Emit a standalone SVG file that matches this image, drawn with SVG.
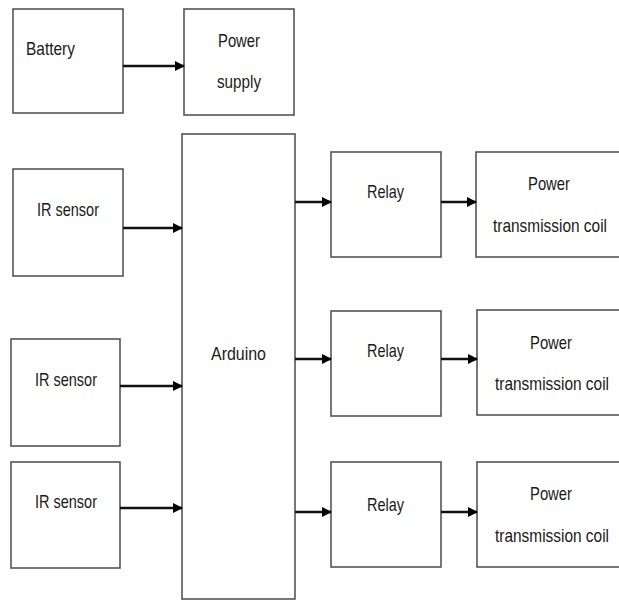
<svg xmlns="http://www.w3.org/2000/svg" width="619" height="600" viewBox="0 0 619 600">
<defs>
<marker id="ah" markerWidth="10" markerHeight="10" refX="9" refY="5" orient="auto" markerUnits="userSpaceOnUse">
<path d="M0,0 L10,5 L0,10 Z" fill="#000"/>
</marker>
<style>
.box{fill:#fff;stroke:#555;stroke-width:1.6}
.t{font-family:"Liberation Sans",Arial,sans-serif;font-size:19px;fill:#1a1a1a;text-anchor:middle}
.c{stroke:#111;stroke-width:2.6;fill:none;marker-end:url(#ah)}
</style>
</defs>
<rect width="619" height="600" fill="#fff"/>
<g id="battery"><rect class="box" x="13" y="9" width="110" height="104"/><text class="t" x="50.5" y="55" textLength="49" lengthAdjust="spacingAndGlyphs">Battery</text></g>
<g id="power-supply"><rect class="box" x="184" y="9" width="110" height="106"/><text class="t" x="239" y="47" textLength="42" lengthAdjust="spacingAndGlyphs">Power</text><text class="t" x="239" y="88" textLength="44" lengthAdjust="spacingAndGlyphs">supply</text></g>
<g id="arduino"><rect class="box" x="182" y="134" width="113" height="465"/><text class="t" x="238.5" y="360" textLength="55" lengthAdjust="spacingAndGlyphs">Arduino</text></g>
<g id="ir1"><rect class="box" x="13" y="169" width="110" height="107"/><text class="t" x="68" y="216" textLength="62" lengthAdjust="spacingAndGlyphs">IR sensor</text></g>
<g id="ir2"><rect class="box" x="11" y="339" width="109" height="107"/><text class="t" x="66" y="386" textLength="62" lengthAdjust="spacingAndGlyphs">IR sensor</text></g>
<g id="ir3"><rect class="box" x="11" y="462" width="109" height="106"/><text class="t" x="66" y="508" textLength="62" lengthAdjust="spacingAndGlyphs">IR sensor</text></g>
<g id="relay1"><rect class="box" x="331" y="152" width="110" height="105"/><text class="t" x="385.5" y="198" textLength="37" lengthAdjust="spacingAndGlyphs">Relay</text></g>
<g id="relay2"><rect class="box" x="331" y="311" width="110" height="105"/><text class="t" x="385.5" y="357" textLength="37" lengthAdjust="spacingAndGlyphs">Relay</text></g>
<g id="relay3"><rect class="box" x="331" y="462" width="110" height="105"/><text class="t" x="385.5" y="511" textLength="37" lengthAdjust="spacingAndGlyphs">Relay</text></g>
<g id="coil1"><rect class="box" x="476" y="152" width="150" height="105"/><text class="t" x="549" y="190" textLength="42" lengthAdjust="spacingAndGlyphs">Power</text><text class="t" x="550" y="232" textLength="114" lengthAdjust="spacingAndGlyphs">transmission coil</text></g>
<g id="coil2"><rect class="box" x="477" y="310" width="150" height="105"/><text class="t" x="551" y="349" textLength="42" lengthAdjust="spacingAndGlyphs">Power</text><text class="t" x="552" y="390" textLength="114" lengthAdjust="spacingAndGlyphs">transmission coil</text></g>
<g id="coil3"><rect class="box" x="477" y="462" width="150" height="105"/><text class="t" x="551" y="500" textLength="42" lengthAdjust="spacingAndGlyphs">Power</text><text class="t" x="552" y="542" textLength="114" lengthAdjust="spacingAndGlyphs">transmission coil</text></g>
<g id="connectors">
<line class="c" x1="123" y1="66" x2="184" y2="66"/>
<line class="c" x1="123" y1="228" x2="182" y2="228"/>
<line class="c" x1="120" y1="386" x2="182" y2="386"/>
<line class="c" x1="120" y1="508" x2="182" y2="508"/>
<line class="c" x1="295" y1="202" x2="331" y2="202"/>
<line class="c" x1="295" y1="359" x2="331" y2="359"/>
<line class="c" x1="295" y1="512" x2="331" y2="512"/>
<line class="c" x1="441" y1="202" x2="476" y2="202"/>
<line class="c" x1="441" y1="359" x2="477" y2="359"/>
<line class="c" x1="441" y1="512" x2="477" y2="512"/>
</g>
</svg>
